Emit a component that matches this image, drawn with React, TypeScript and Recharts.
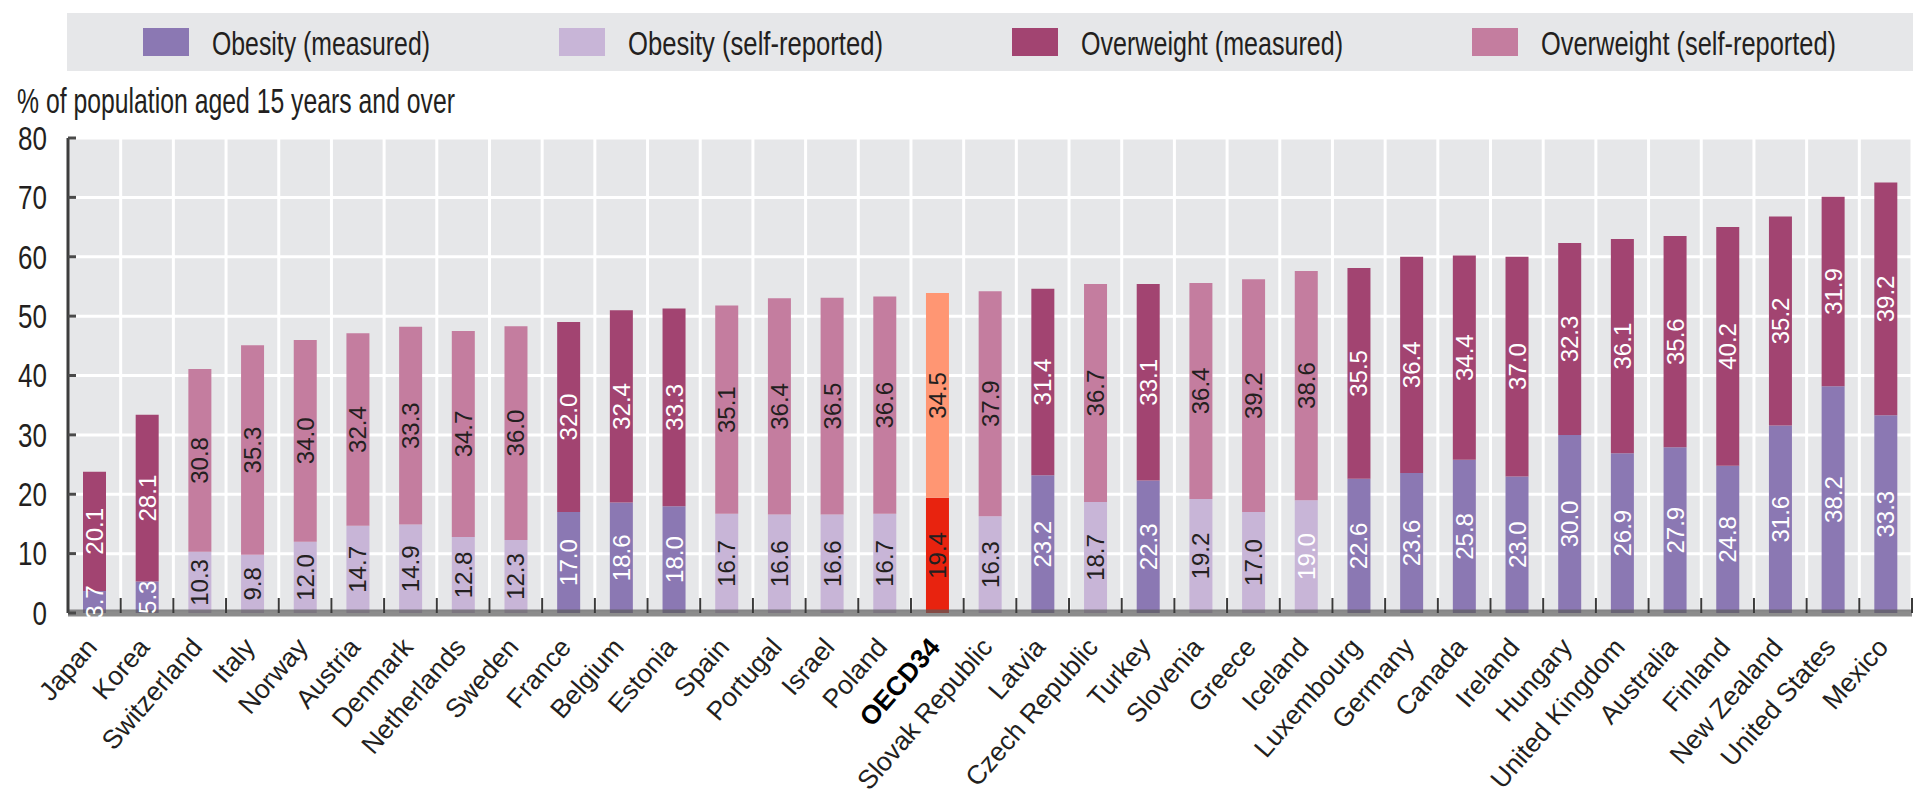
import { BarChart, Bar, XAxis, YAxis, CartesianGrid, Cell, LabelList, ReferenceLine } from 'recharts';

const FONT = '"Liberation Sans", Arial, sans-serif';
const INK = '#231f20';

const countries = [
  'Japan', 'Korea', 'Switzerland', 'Italy', 'Norway', 'Austria', 'Denmark', 'Netherlands', 'Sweden',
  'France', 'Belgium', 'Estonia', 'Spain', 'Portugal', 'Israel', 'Poland', 'OECD34', 'Slovak Republic',
  'Latvia', 'Czech Republic', 'Turkey', 'Slovenia', 'Greece', 'Iceland', 'Luxembourg', 'Germany',
  'Canada', 'Ireland', 'Hungary', 'United Kingdom', 'Australia', 'Finland', 'New Zealand',
  'United States', 'Mexico',
];

const obesity = [
  3.7, 5.3, 10.3, 9.8, 12.0, 14.7, 14.9, 12.8, 12.3, 17.0, 18.6, 18.0, 16.7, 16.6, 16.6, 16.7, 19.4, 16.3,
  23.2, 18.7, 22.3, 19.2, 17.0, 19.0, 22.6, 23.6, 25.8, 23.0, 30.0, 26.9, 27.9, 24.8, 31.6, 38.2, 33.3,
];

const overweight = [
  20.1, 28.1, 30.8, 35.3, 34.0, 32.4, 33.3, 34.7, 36.0, 32.0, 32.4, 33.3, 35.1, 36.4, 36.5, 36.6, 34.5, 37.9,
  31.4, 36.7, 33.1, 36.4, 39.2, 38.6, 35.5, 36.4, 34.4, 37.0, 32.3, 36.1, 35.6, 40.2, 35.2, 31.9, 39.2,
];

// M = measured, S = self-reported, O = OECD average
const survey = [
  'M', 'M', 'S', 'S', 'S', 'S', 'S', 'S', 'S', 'M', 'M', 'M', 'S', 'S', 'S', 'S', 'O', 'S',
  'M', 'S', 'M', 'S', 'S', 'S', 'M', 'M', 'M', 'M', 'M', 'M', 'M', 'M', 'M', 'M', 'M',
];

const yTicks = [0, 10, 20, 30, 40, 50, 60, 70, 80];

const seriesNames = ['Obesity (measured)', 'Obesity (self-reported)', 'Overweight (measured)', 'Overweight (self-reported)'];

const COLORS = {
  obesityMeasured: '#8b78b3',
  obesitySelf: '#c8b5d7',
  overweightMeasured: '#a24471',
  overweightSelf: '#c47d9f',
  oecdObesity: '#e8230f',
  oecdOverweight: '#ff9673',
};

const data = countries.map((name, i) => ({
  name,
  obesityMeasured: survey[i] === 'M' ? obesity[i] : null,
  obesitySelf: survey[i] !== 'M' ? obesity[i] : null,
  overweightMeasured: survey[i] === 'M' ? overweight[i] : null,
  overweightSelf: survey[i] !== 'M' ? overweight[i] : null,
}));

// the original uses a narrow font: draw at normal width, then stretch vertically
const TALL = 1.42;

const LEGEND = [
  { name: seriesNames[0], color: COLORS.obesityMeasured, textW: 218 },
  { name: seriesNames[1], color: COLORS.obesitySelf, textW: 255 },
  { name: seriesNames[2], color: COLORS.overweightMeasured, textW: 262 },
  { name: seriesNames[3], color: COLORS.overweightSelf, textW: 295 },
];

const barLabel = (colorFor: (i: number) => string) => (props: any) => {
  const { value, index } = props;
  if (value == null || Array.isArray(value)) return null;
  const vb = props.viewBox ?? props;
  const cx = vb.x + vb.width / 2;
  const cy = vb.y + vb.height / 2;
  return (
    <text
      x={cx}
      y={cy}
      transform={`rotate(-90 ${cx} ${cy})`}
      textAnchor="middle"
      dominantBaseline="central"
      fontSize={24}
      fontFamily={FONT}
      fill={colorFor(index)}
    >
      {Number(value).toFixed(1)}
    </text>
  );
};

const YTick = (props: any) => {
  const { x, y, payload } = props;
  return (
    <g>
      <line x1={x + 21} x2={x + 29} y1={y} y2={y} stroke="#4a4a4a" strokeWidth={3} />
      <text
        transform={`translate(${x},${y}) scale(1,${TALL - 0.12})`}
        textAnchor="end"
        dominantBaseline="central"
        fontSize={26}
        fontFamily={FONT}
        fill={INK}
      >
        {payload.value}
      </text>
    </g>
  );
};

const XTick = (props: any) => {
  const { x, y, payload, width, visibleTicksCount } = props;
  const band = width && visibleTicksCount ? width / visibleTicksCount : 52.7;
  const oecd = payload.value === 'OECD34';
  const tx = x + 4;
  const ty = y + 35;
  return (
    <g>
      <line x1={x + band / 2} x2={x + band / 2} y1={y - 15} y2={y} stroke="#3a3a3a" strokeWidth={2} />
      <text
        x={tx}
        y={ty}
        transform={`rotate(-49 ${tx} ${ty})`}
        textAnchor="end"
        fontSize={26.5}
        fontFamily={FONT}
        fontWeight={oecd ? 700 : 400}
        fill={oecd ? '#000' : INK}
      >
        {payload.value}
      </text>
    </g>
  );
};

function Header() {
  let cursor = 143;
  const items = LEGEND.map((item) => {
    const x = cursor;
    cursor += 69 + item.textW + 129;
    return (
      <g key={item.name}>
        <rect x={x} y={28} width={46} height={28} fill={item.color} />
        <text
          transform={`translate(${x + 69},55) scale(1,${TALL})`}
          fontSize={24}
          fontFamily={FONT}
          fill={INK}
          textLength={item.textW}
          lengthAdjust="spacingAndGlyphs"
        >
          {item.name}
        </text>
      </g>
    );
  });
  return (
    <svg width={1915} height={125} style={{ position: 'absolute', left: 0, top: 0 }}>
      <rect x={67} y={13} width={1846} height={58} fill="#e6e7e9" />
      {items}
      <text
        transform={`translate(17,113) scale(1,${TALL})`}
        fontSize={24.5}
        fontFamily={FONT}
        fill={INK}
        textLength={438}
        lengthAdjust="spacingAndGlyphs"
      >
        % of population aged 15 years and over
      </text>
    </svg>
  );
}

export default function App() {
  return (
    <div style={{ position: 'relative', width: 1915, height: 803, background: '#fff', fontFamily: FONT }}>
      <style>{'body{margin:0}'}</style>
      <BarChart
        width={1915}
        height={803}
        data={data}
        margin={{ top: 138, right: 3, bottom: 0, left: 0 }}
        barSize={23}
      >
        <CartesianGrid
          fill="#e6e7e9"
          fillOpacity={1}
          stroke="#ffffff"
          strokeWidth={3}
          verticalCoordinatesGenerator={({ offset }: any) =>
            countries.map((_, i) => offset.left + ((i + 1) * offset.width) / countries.length)
          }
        />
        <XAxis
          dataKey="name"
          height={190}
          interval={0}
          tickSize={0}
          tickMargin={0}
          tickLine={false}
          axisLine={false}
          tick={<XTick />}
        />
        <YAxis
          domain={[0, 80]}
          ticks={yTicks}
          interval={0}
          width={68}
          tickSize={0}
          tickMargin={21}
          tickLine={false}
          axisLine={{ stroke: '#3d3d3d', strokeWidth: 3 }}
          tick={<YTick />}
        />
        <Bar dataKey="obesityMeasured" name={seriesNames[0]} stackId="a" fill={COLORS.obesityMeasured} isAnimationActive={false}>
          <LabelList dataKey="obesityMeasured" content={barLabel(() => '#ffffff')} />
        </Bar>
        <Bar dataKey="obesitySelf" name={seriesNames[1]} stackId="a" fill={COLORS.obesitySelf} isAnimationActive={false}>
          {data.map((_, i) => (
            <Cell key={i} fill={survey[i] === 'O' ? COLORS.oecdObesity : COLORS.obesitySelf} />
          ))}
          <LabelList dataKey="obesitySelf" content={barLabel((i) => (survey[i] === 'O' ? '#ffffff' : INK))} />
        </Bar>
        <Bar dataKey="overweightMeasured" name={seriesNames[2]} stackId="a" fill={COLORS.overweightMeasured} isAnimationActive={false}>
          <LabelList dataKey="overweightMeasured" content={barLabel(() => '#ffffff')} />
        </Bar>
        <Bar dataKey="overweightSelf" name={seriesNames[3]} stackId="a" fill={COLORS.overweightSelf} isAnimationActive={false}>
          {data.map((_, i) => (
            <Cell key={i} fill={survey[i] === 'O' ? COLORS.oecdOverweight : COLORS.overweightSelf} />
          ))}
          <LabelList dataKey="overweightSelf" content={barLabel(() => INK)} />
        </Bar>
        <ReferenceLine y={0} stroke="#5b5b5b" strokeOpacity={0.7} strokeWidth={7} />
      </BarChart>
      <Header />
    </div>
  );
}
